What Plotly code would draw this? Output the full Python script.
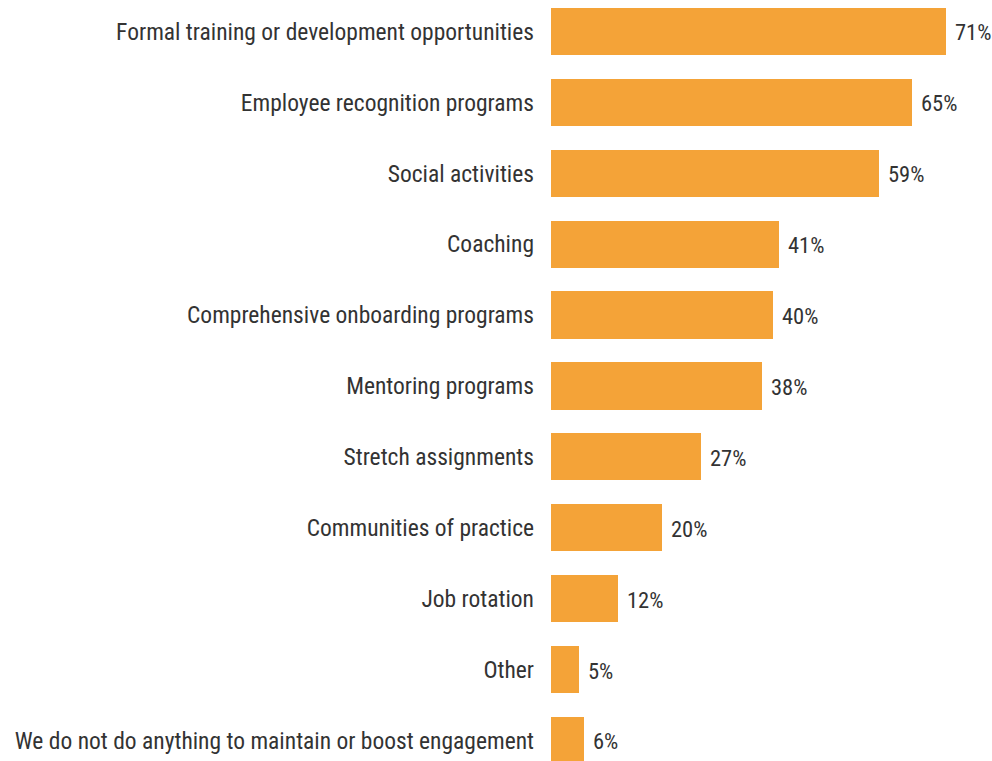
import plotly.graph_objects as go

categories = [
    "Formal training or development opportunities",
    "Employee recognition programs",
    "Social activities",
    "Coaching",
    "Comprehensive onboarding programs",
    "Mentoring programs",
    "Stretch assignments",
    "Communities of practice",
    "Job rotation",
    "Other",
    "We do not do anything to maintain or boost engagement",
]
values = [71, 65, 59, 41, 40, 38, 27, 20, 12, 5, 6]

BAR = "#F4A338"
TEXT = "#333333"
FONT = "Liberation Sans Narrow, Roboto Condensed, Arial Narrow, sans-serif"

positions = list(range(len(categories)))

fig = go.Figure(
    go.Bar(
        x=values,
        y=positions,
        orientation="h",
        marker=dict(color=BAR, line=dict(width=0)),
        width=0.665,
        hoverinfo="skip",
    )
)

# percentage labels just past the end of each bar
for pos, v in zip(positions, values):
    fig.add_annotation(
        x=v, y=pos, xref="x", yref="y",
        text=f"{v}%", showarrow=False,
        xanchor="left", yanchor="middle", xshift=7, yshift=-1,
        font=dict(family=FONT, size=22.5, color=TEXT),
    )

fig.update_layout(
    width=992,
    height=761,
    margin=dict(l=551, r=0, t=0, b=0),
    paper_bgcolor="white",
    plot_bgcolor="white",
    showlegend=False,
    bargap=0,
    xaxis=dict(range=[0, 79.3], visible=False, fixedrange=True),
    yaxis=dict(
        range=[10.29, -0.444],
        tickmode="array",
        tickvals=positions,
        ticktext=categories,
        tickfont=dict(family=FONT, size=23.5, color=TEXT),
        showgrid=False,
        zeroline=False,
        showline=False,
        ticks="",
        ticklabelstandoff=16,
        automargin=False,
    ),
)

fig.write_html("out.html")
